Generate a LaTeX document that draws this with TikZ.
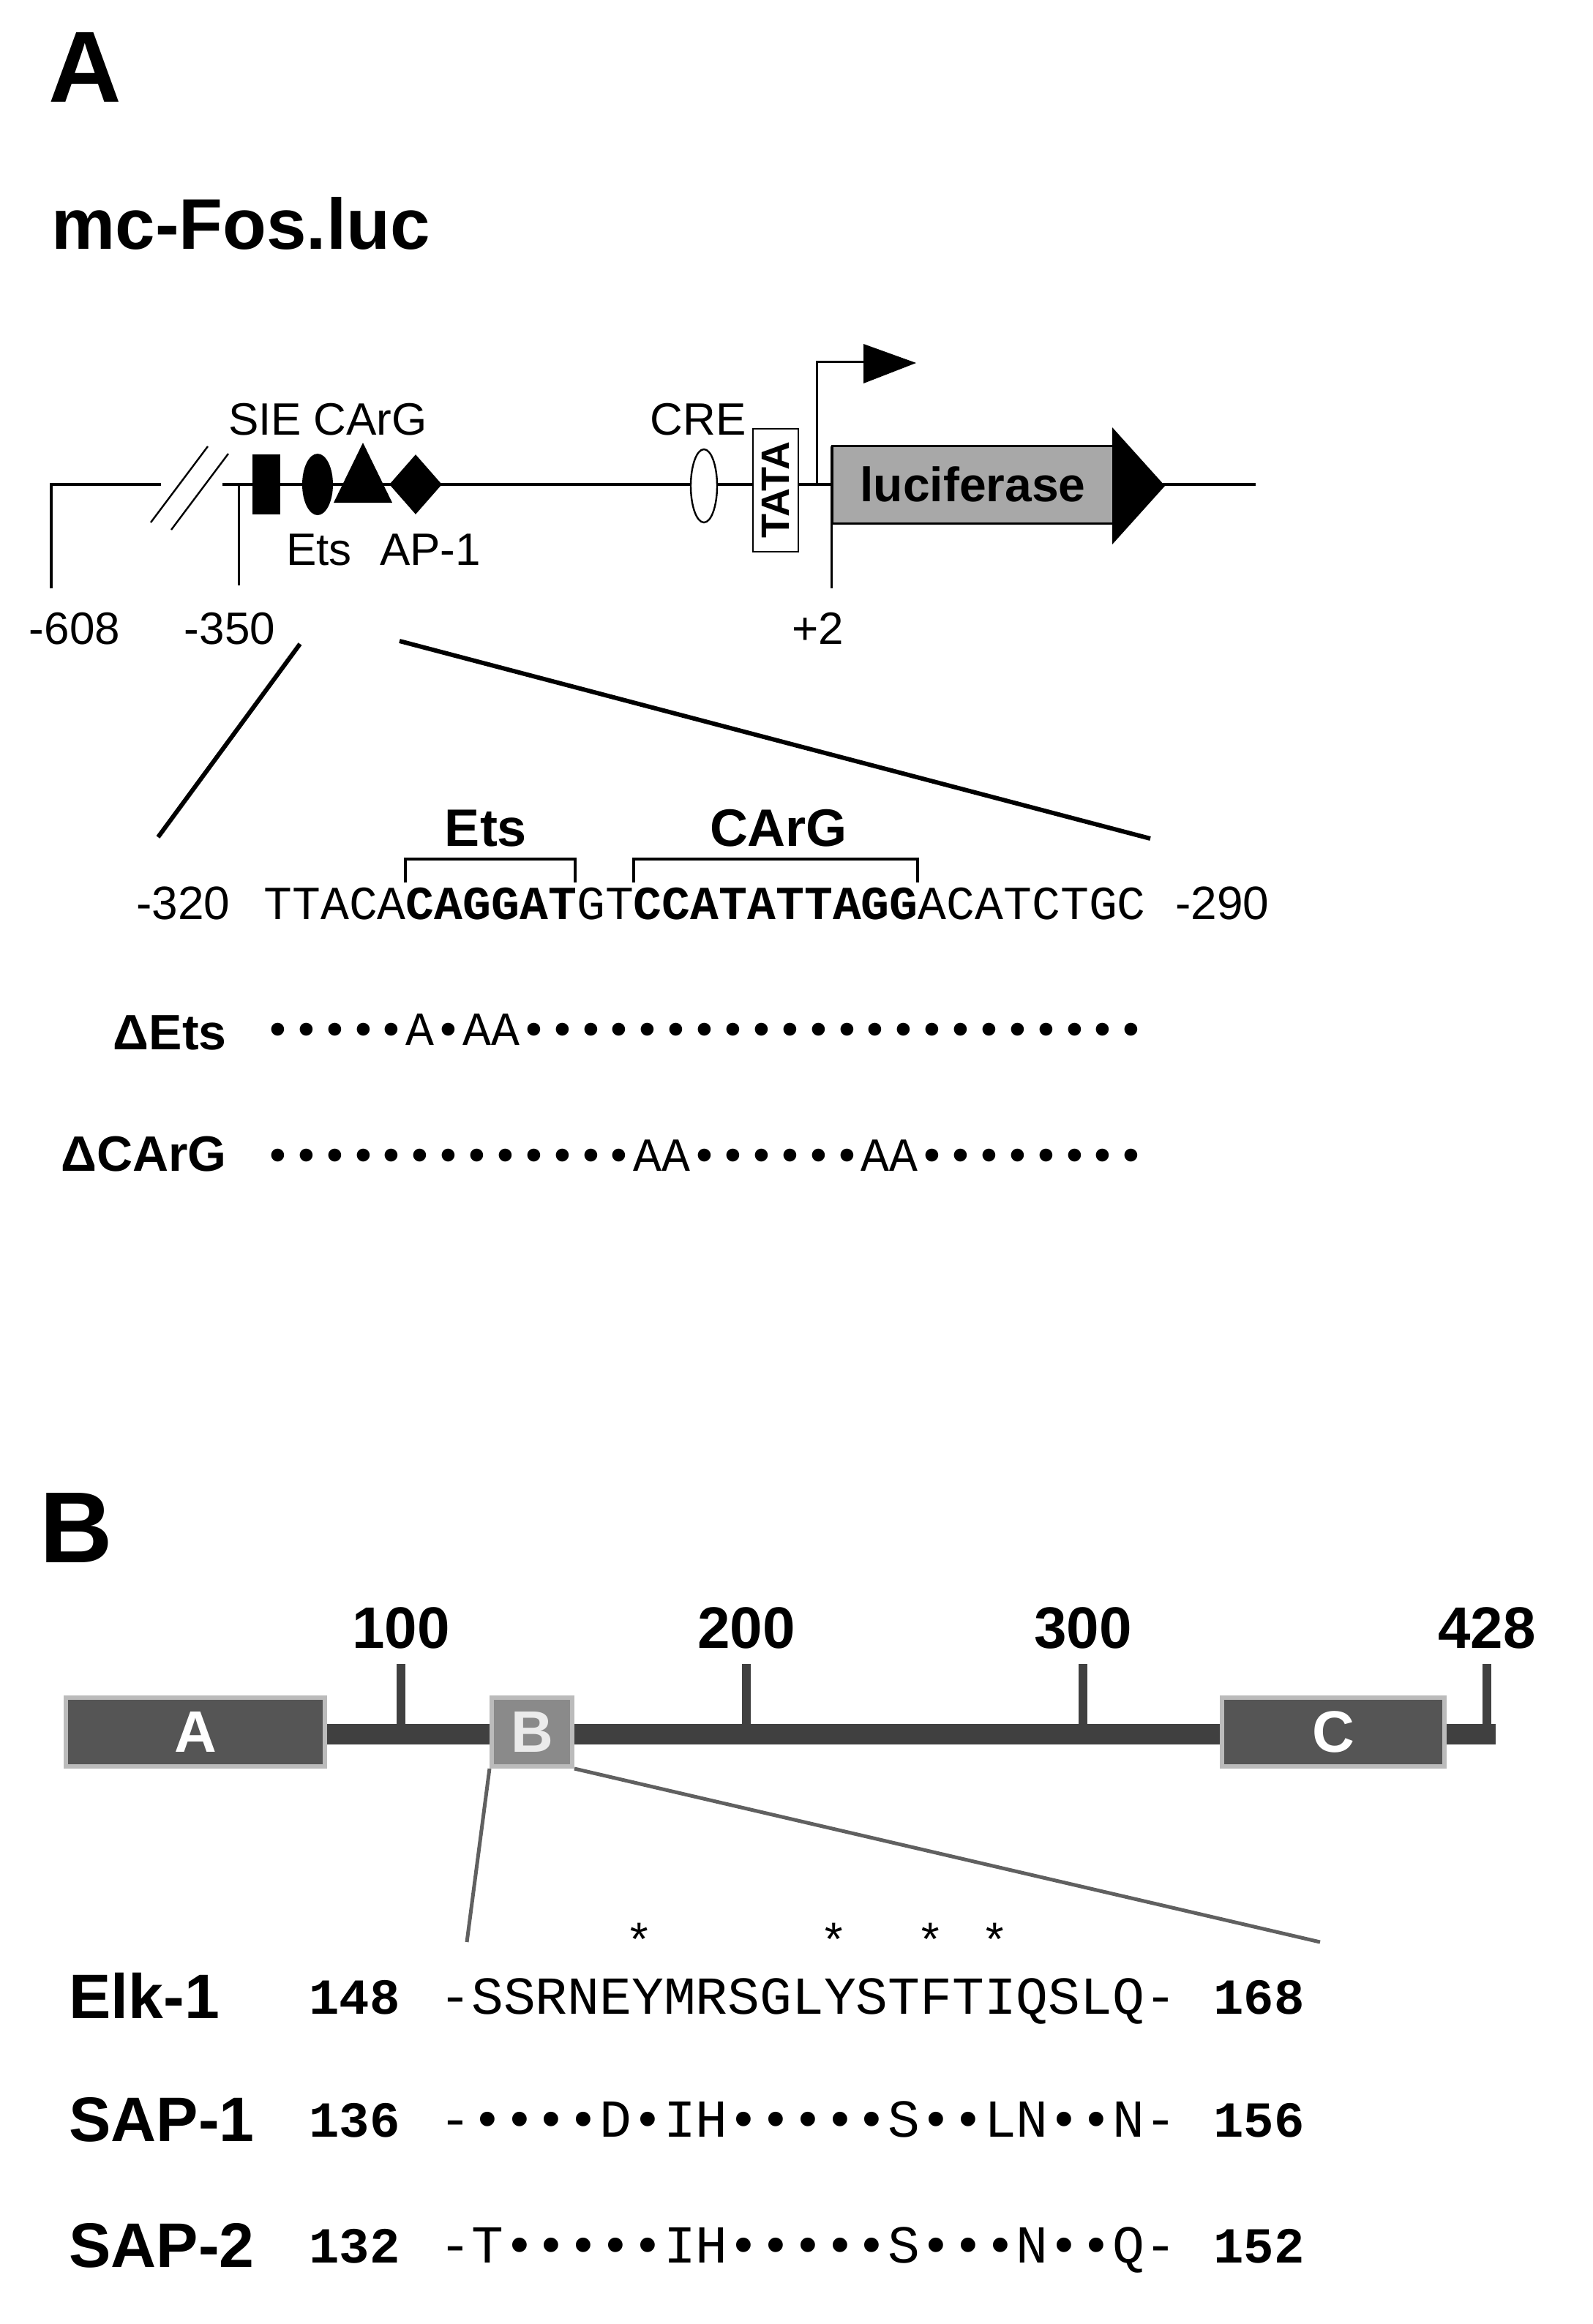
\documentclass[tikz,border=0pt]{standalone}
\usepackage{fontspec}
\setmainfont{Liberation Sans}
\newfontfamily\seqfont{Liberation Mono}
\usetikzlibrary{shapes,shapes.geometric,positioning,arrows.meta}
\definecolor{bardark}{HTML}{404040}
\definecolor{boxdark}{HTML}{555555}
\definecolor{boxmid}{HTML}{8A8A8A}
\definecolor{boxrim}{HTML}{BBBBBB}
\definecolor{lucgray}{HTML}{A8A8A8}
\newcommand{\fs}[1]{\fontsize{#1}{#1}\selectfont}
\tikzset{
  site/.style={fill=black,inner sep=0pt},
  lbl/.style={inner sep=0pt,font=\fs{31}},
  seq/.style={inner sep=0pt,anchor=base west,font=\seqfont\fs{32.4}},
  prot/.style={inner sep=0pt,anchor=base west,font=\seqfont\fs{36.5}},
  dombox/.style={draw=boxrim,line width=3pt,fill=boxdark,minimum height=47pt,inner sep=0pt,
    text=white,font=\bfseries\fs{40}},
  tick/.style={bardark,line width=6pt},
  zoomline/.style={line width=2.5pt,gray!75!black}
}
\begin{document}
\begin{tikzpicture}[x=1pt,y=-1pt]
\useasboundingbox (0,0) rectangle (1088.5,1588);
% Panel A
\node[anchor=north west,inner sep=0pt,font=\bfseries\fs{69}] (pA) at (33,22) {A};
\node[anchor=base west,inner sep=0pt,font=\bfseries\fs{49}] (title) at (35,170) {mc-Fos.luc};
%-----------------------------------------------
\draw[line width=2.2pt] (35,402) -- (35,331) -- (110,331);
\draw[line width=2.2pt] (152,331) -- (858,331);
\draw[line width=1.5pt] (163,331) -- (163,400);
\draw[line width=1.2pt] (103,357) -- (142,305) (117,362) -- (156,310);
% sites
\node[site,minimum width=19pt,minimum height=41pt] (sie) at (182,331) {};
\node[site,ellipse,minimum width=21pt,minimum height=42pt] (ets) at (217,331) {};
\node[site,isosceles triangle,shape border rotate=90,isosceles triangle apex angle=52,minimum height=41pt,minimum width=36pt] (carg) at (248,331) {};
\node[site,diamond,minimum width=36pt,minimum height=41pt] (ap1) at (284,331) {};
\node[draw,fill=white,ellipse,line width=1.2pt,minimum width=18pt,minimum height=50pt,inner sep=0pt] (cre) at (481,332) {};
\node[draw,fill=white,line width=1.2pt,minimum width=31pt,minimum height=84pt,inner sep=0pt] (tata) at (530,335) {};
\node[rotate=90,inner sep=0pt,font=\bfseries\fs{27}] at (tata) {TATA};
\node[lbl,anchor=base] (lsie) at (181,297) {SIE};
\node[lbl,anchor=base] (lcarg) at (253,297) {CArG};
\node[lbl,anchor=base] (lets) at (218,386) {Ets};
\node[lbl,anchor=base] (lap) at (294,386) {AP-1};
\node[lbl,anchor=base] (lcre) at (477,297) {CRE};
% start site and luciferase
\draw[line width=1.5pt] (558,331) -- (558,247) -- (592,247);
\fill (590,235) -- (626,248) -- (590,262) -- cycle;
\draw[line width=1.5pt] (568,305) -- (568,402);
\node[draw,line width=1.5pt,fill=lucgray,minimum width=192pt,minimum height=53pt,anchor=west,inner sep=0pt,
  font=\bfseries\fs{33}] (luc) at (568,331) {luciferase};
\fill (760,292) -- (796,332) -- (760,372) -- cycle;
\node[lbl,anchor=base] (n608) at (51,440) {-608};
\node[lbl,anchor=base] (n350) at (157,440) {-350};
\node[lbl,anchor=base] (n2) at (559,440) {+2};
%-----------------------------------------------
\coordinate (z1a) at (205,440);
\coordinate (z1b) at (108,572);
\coordinate (z2a) at (273,438);
\coordinate (z2b) at (786,573);
\draw[line width=3pt] (z1a) -- (z1b);
\draw[line width=3pt] (z2a) -- (z2b);
% sequence
\node[lbl,anchor=base west,font=\fs{32}] (m320) at (93,628) {-320};
\node[seq] (dna) at (180,628) {TTACA\textbf{CAGGAT}GT\textbf{CCATATTAGG}ACATCTGC};
\node[lbl,anchor=base west,font=\fs{32}] (m290) at (803,628) {-290};
\draw[line width=2.2pt] (277,603) -- (277,587) -- (393,587) -- (393,603);
\draw[line width=2.2pt] (433,603) -- (433,587) -- (627,587) -- (627,603);
\node[anchor=base,inner sep=0pt,font=\bfseries\fs{36}] (bets) at (332,578) {Ets};
\node[anchor=base,inner sep=0pt,font=\bfseries\fs{36}] (bcarg) at (532,578) {CArG};
\node[anchor=base east,inner sep=0pt,font=\bfseries\fs{34}] (dets) at (155,717) {ΔEts};
\node[seq] (mets) at (180,714) {•••••A•AA••••••••••••••••••••••};
\node[anchor=base east,inner sep=0pt,font=\bfseries\fs{34}] (dcarg) at (155,800) {ΔCArG};
\node[seq] (mcarg) at (180,800) {•••••••••••••AA••••••AA••••••••};
% Panel B
\node[anchor=north west,inner sep=0pt,font=\bfseries\fs{69}] (pB) at (27,1020) {B};
\draw[bardark,line width=14pt] (222,1185) -- (1022,1185);
\foreach \x/\t in {274/100,510/200,740/300,1016/428}{
  \draw[tick] (\x,1191) -- (\x,1137);
  \node[anchor=base,inner sep=0pt,font=\bfseries\fs{40}] (t\t) at (\x,1126) {\t};
}
\node[dombox,minimum width=177pt] (dA) at (133.5,1183.5) {A};
\node[dombox,minimum width=55pt,fill=boxmid,text=white!92!black] (dB) at (363.5,1183.5) {B};
\node[dombox,minimum width=152pt] (dC) at (911,1183.5) {C};
\coordinate (e1) at (319,1327);
\coordinate (e2) at (902,1327);
\draw[zoomline] (dB.south west) -- (e1);
\draw[zoomline] (dB.south east) -- (e2);
\foreach \x in {437,570,636,680}
  \node[anchor=base,inner sep=0pt,font=\seqfont\fs{32}] at (\x,1337) {*};
%-----------------------------------------------
\foreach \y/\name/\a/\s/\b in {1376/Elk-1/148/-SSRNEYMRSGLYSTFTIQSLQ-/168,
  1460/SAP-1/136/-••••D•IH•••••S••LN••N-/156,
  1546/SAP-2/132/-T•••••IH•••••S•••N••Q-/152}{
  \node[anchor=base west,inner sep=0pt,font=\bfseries\fs{43}] (r\a) at (47,\y+3) {\name};
  \node[prot,font=\seqfont\bfseries\fs{34.5}] (a\a) at (211,\y) {\a};
  \node[prot] (s\a) at (300,\y) {\s};
  \node[prot,font=\seqfont\bfseries\fs{34.5}] (b\a) at (829,\y) {\b};
}
\end{tikzpicture}
\end{document}
